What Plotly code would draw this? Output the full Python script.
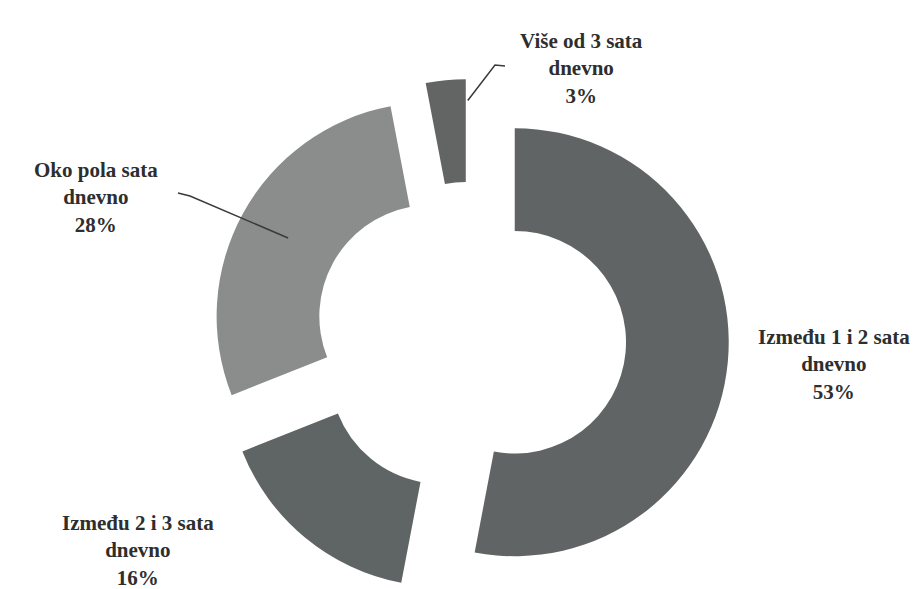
import plotly.graph_objects as go
import math

# ---- data ----
labels = ["Između 1 i 2 sata dnevno", "Između 2 i 3 sata dnevno",
          "Oko pola sata dnevno", "Više od 3 sata dnevno"]
label_lines = ["Između 1 i 2 sata<br>dnevno", "Između 2 i 3 sata<br>dnevno",
               "Oko pola sata<br>dnevno", "Više od 3 sata<br>dnevno"]
values = [53, 16, 28, 3]
colors = ["#606464", "#5f6464", "#8b8d8d", "#636565"]

W, H = 921, 589
# layout geometry (pixels)
CX, CY = 462, 330
R = 214
PULL = 0.21
HOLE = 0.52
S = R * (1 + PULL)

fig = go.Figure(go.Pie(
    labels=labels, values=values, sort=False, direction="clockwise", rotation=0,
    hole=HOLE, pull=[PULL] * len(values),
    marker=dict(colors=colors, line=dict(width=0)),
    textinfo="none", hoverinfo="label+percent", showlegend=False,
    domain=dict(x=[(CX - S) / W, (CX + S) / W], y=[(H - CY - S) / H, (H - CY + S) / H]),
))

def px(x, y):
    return x / W, 1 - y / H

font = dict(family="Liberation Serif, Times New Roman, serif", size=21, color="#2e2e2e")
label_pos = [(826, 357), (130, 542), (88, 189), (573, 61)]
for txt, v, (lx, ly) in zip(label_lines, values, label_pos):
    ax, ay = px(lx, ly)
    fig.add_annotation(x=ax, y=ay, xref="paper", yref="paper", showarrow=False,
                       text=f"<b>{txt}<br>{v}%</b>", font=font, align="center",
                       xanchor="center", yanchor="middle")

# leader lines for two labels (to slice points)
total = sum(values)
starts = []
acc = 0
for v in values:
    starts.append(acc)
    acc += v

def slice_point(i, rfrac, angle_frac=0.5):
    a = (starts[i] + values[i] * angle_frac) / total * 2 * math.pi
    sx = CX + PULL * R * math.sin(a)
    sy = CY - PULL * R * math.cos(a)
    return sx + rfrac * R * math.sin(a), sy - rfrac * R * math.cos(a)

leaders = [
    (2, [(170, 185), (182, 188)], (0.76, 0.5)),
    (3, [(497, 58), (487, 57)], (0.9, 0.95)),
]
for i, pts, (rf, af) in leaders:
    ex, ey = slice_point(i, rf, af)
    path_pts = pts + [(ex, ey)]
    d = "M " + " L ".join(f"{px(x, y)[0]:.5f},{px(x, y)[1]:.5f}" for x, y in path_pts)
    fig.add_shape(type="path", path=d, xref="paper", yref="paper",
                  line=dict(color="#3a3a3a", width=1.5))

fig.update_layout(width=W, height=H, margin=dict(l=0, r=0, t=0, b=0),
                  paper_bgcolor="white", plot_bgcolor="white")
fig.write_html("out.html")
